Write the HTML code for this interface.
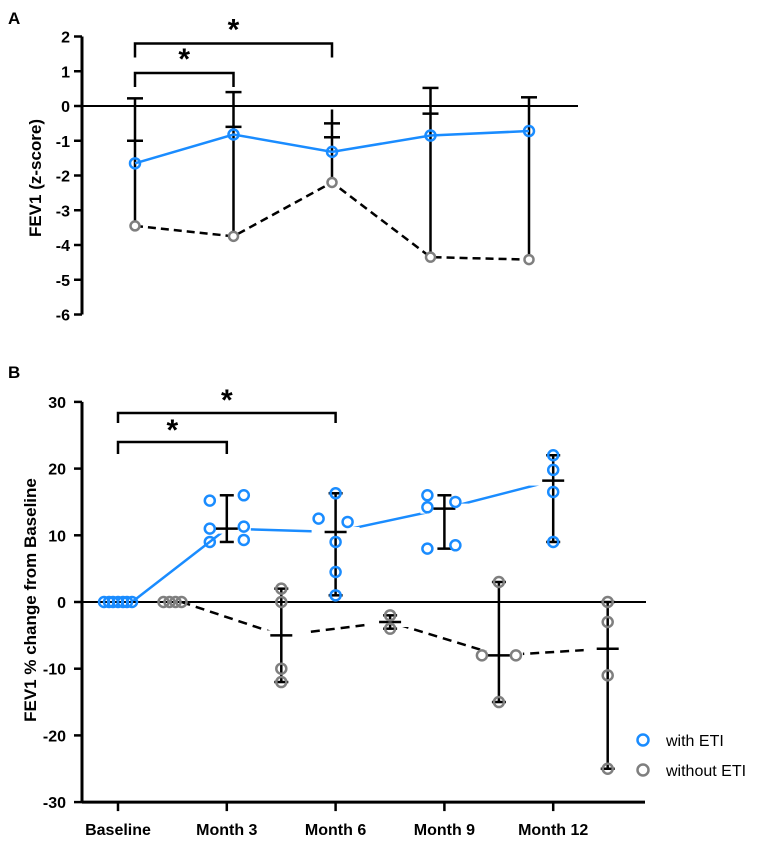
<!DOCTYPE html>
<html><head><meta charset="utf-8"><style>
html,body{margin:0;padding:0;background:#fff}
svg{display:block;font-family:"Liberation Sans",Arial,sans-serif}
</style></head><body>
<svg id="chart" width="763" height="842" viewBox="0 0 763 842" xmlns="http://www.w3.org/2000/svg"></svg>
<script>
const NS="http://www.w3.org/2000/svg";
const BLUE="#1a8cff", GRAY="#7f7f7f";
// Panel A data
const aTicks=[2,1,0,-1,-2,-3,-4,-5,-6];
const aWith=[-1.65,-0.82,-1.32,-0.85,-0.72];
const aWithout=[-3.45,-3.75,-2.2,-4.35,-4.42];
const aErrTop=[0.22,0.4,-0.1,0.52,0.25];
const aCaps=[[0.22,-1.0],[0.4,-0.6],[-0.5,-0.9],[0.52,-0.22],[0.25]];
// Panel B data
const categories=["Baseline","Month 3","Month 6","Month 9","Month 12"];
const bTicks=[30,20,10,0,-10,-20,-30];
const bWithPts=[[0,0,0,0,0,0,0],[15.2,16,11,11.3,9,9.3],[16.3,9,4.5,1,12.5,12],[16,14.2,15,8,8.5],[22,19.8,16.5,9]];
const bWithDx=[[-14,-9,-5,0,5,9,14],[-17,17,-17,17,-17,17],[0,0,0,0,-17,12],[-17,-17,11,-17,11],[0,0,0,0]];
const bWithMean=[0,11,10.5,14,18.2];
const bWithSD=[null,[16,9],[16.3,1],[16,8],[22,9]];
const bWoPts=[[0,0,0,0],[2,0,-10,-12],[-2,-4],[3,-8,-8,-15],[0,-3,-11,-25]];
const bWoDx=[[-9,-3,3,9],[0,0,0,0],[0,0],[0,-17,17,0],[0,0,0,0]];
const bWoMean=[0,-5,-3,-8,-7];
const bWoSD=[null,[2,-12],[-2,-4],[3,-15],[0,-25]];

const svg=document.getElementById('chart');
function el(tag,attrs,parent){const e=document.createElementNS(NS,tag);for(const k in attrs)e.setAttribute(k,attrs[k]);(parent||svg).appendChild(e);return e;}
function txt(s,attrs,parent){const e=el('text',attrs,parent);e.textContent=s;return e;}

// ---------- Panel A ----------
const gA=el('g',{});


const yA=v=>106-v*34.75;
const xA=i=>135+i*98.5;
const pl=txt('A',{x:8,y:24,'font-size':17,'font-weight':'bold'},gA);

el('line',{x1:82,y1:yA(2),x2:82,y2:yA(-6),stroke:'#000','stroke-width':3},gA);
el('line',{x1:82,y1:yA(0),x2:578,y2:yA(0),stroke:'#000','stroke-width':2},gA);
aTicks.forEach(t=>{
 el('line',{x1:74,y1:yA(t),x2:82,y2:yA(t),stroke:'#000','stroke-width':2.5},gA);
 const l=txt(String(t),{x:70,y:yA(t)+6,'font-size':16,'font-weight':'bold','text-anchor':'end'},gA);
 
});
const at=txt('FEV1 (z-score)',{x:0,y:0,'font-size':17,'font-weight':'bold','text-anchor':'middle',transform:'translate(41,178) rotate(-90)'},gA);

function bracket(g,x1,x2,y,drop,sy,name){
 const p=el('path',{d:`M${x1},${y+drop} V${y} H${x2} V${y+drop}`,fill:'none',stroke:'#000','stroke-width':2.5},g);
 
 const s=txt('*',{x:(x1+x2)/2,y:sy,'font-size':30,'font-weight':'bold','text-anchor':'middle'},g);
 
}
bracket(gA,xA(0),xA(2),yA(1.8),14,yA(1.8)-4,'a-bracket-baseline-month6');
bracket(gA,xA(0),xA(1),yA(0.95),14,yA(0.95)-4,'a-bracket-baseline-month3');
aErrTop.forEach((t,i)=>{
 const ln=el('line',{x1:xA(i),y1:yA(t),x2:xA(i),y2:yA(aWithout[i]),stroke:'#000','stroke-width':2.5},gA);
 
 aCaps[i].forEach(c=>el('line',{x1:xA(i)-8,y1:yA(c),x2:xA(i)+8,y2:yA(c),stroke:'#000','stroke-width':2.5},gA));
});
el('polyline',{points:aWithout.map((v,i)=>xA(i)+','+yA(v)).join(' '),fill:'none',stroke:'#000','stroke-width':2.5,'stroke-dasharray':'8,5'},gA);
el('polyline',{points:aWith.map((v,i)=>xA(i)+','+yA(v)).join(' '),fill:'none',stroke:BLUE,'stroke-width':2.5},gA);
aWithout.forEach((v,i)=>{const c=el('circle',{cx:xA(i),cy:yA(v),r:4.5,fill:'#fff',stroke:GRAY,'stroke-width':2.5},gA);});
aWith.forEach((v,i)=>{const c=el('circle',{cx:xA(i),cy:yA(v),r:5,fill:'none',stroke:BLUE,'stroke-width':2.5},gA);});

// ---------- Panel B ----------
const gB=el('g',{});


const yB=v=>602-v*6.67;
const xB=i=>118+i*108.8;
const gOff=54.5;
const pb=txt('B',{x:8,y:378,'font-size':17,'font-weight':'bold'},gB);

el('line',{x1:82,y1:yB(30),x2:82,y2:yB(-30),stroke:'#000','stroke-width':3},gB);
el('line',{x1:82,y1:yB(-30),x2:645,y2:yB(-30),stroke:'#000','stroke-width':3},gB);
el('line',{x1:82,y1:yB(0),x2:646,y2:yB(0),stroke:'#000','stroke-width':2},gB);
bTicks.forEach(t=>{
 el('line',{x1:74,y1:yB(t),x2:82,y2:yB(t),stroke:'#000','stroke-width':2.5},gB);
 const l=txt(String(t),{x:66,y:yB(t)+6,'font-size':16,'font-weight':'bold','text-anchor':'end'},gB);
 
});
categories.forEach((c,i)=>{
 el('line',{x1:xB(i),y1:yB(-30),x2:xB(i),y2:yB(-30)+9,stroke:'#000','stroke-width':2.5},gB);
 const l=txt(c,{x:xB(i),y:835,'font-size':16,'font-weight':'bold','text-anchor':'middle'},gB);
 
});
const bt=txt('FEV1 % change from Baseline',{x:0,y:0,'font-size':17,'font-weight':'bold','text-anchor':'middle',transform:'translate(36,600) rotate(-90)'},gB);

bracket(gB,xB(0),xB(2),413,10,410,'b-bracket-baseline-month6');
bracket(gB,xB(0),xB(1),442,12,440,'b-bracket-baseline-month3');
const wPts=bWithMean.map((v,i)=>[i===0?xB(0)+14:xB(i),yB(v)]);
el('polyline',{points:wPts.map(p=>p.join(',')).join(' '),fill:'none',stroke:BLUE,'stroke-width':2.5},gB);
const gPts=bWoMean.map((v,i)=>[xB(i)+gOff+(i===0?9:0),yB(v)]);
el('polyline',{points:gPts.map(p=>p.join(',')).join(' '),fill:'none',stroke:'#000','stroke-width':2.5,'stroke-dasharray':'9,6'},gB);
[1,2,3,4].forEach(i=>{el('rect',{x:xB(i)-24,y:yB(bWithMean[i])-5,width:48,height:10,fill:'#fff'},gB);});
[1,2,3,4].forEach(i=>{el('rect',{x:xB(i)+gOff-24,y:yB(bWoMean[i])-5,width:48,height:10,fill:'#fff'},gB);});
el('line',{x1:82,y1:yB(0),x2:646,y2:yB(0),stroke:'#000','stroke-width':2},gB);
function errbar(x,sd,mean,name){
 if(!sd)return;
 const l=el('line',{x1:x,y1:yB(sd[0]),x2:x,y2:yB(sd[1]),stroke:'#000','stroke-width':2.5},gB);
 
 sd.forEach(v=>el('line',{x1:x-7,y1:yB(v),x2:x+7,y2:yB(v),stroke:'#000','stroke-width':2.5},gB));
 el('line',{x1:x-11,y1:yB(mean),x2:x+11,y2:yB(mean),stroke:'#000','stroke-width':2.5},gB);
}
bWithSD.forEach((sd,i)=>errbar(xB(i),sd,bWithMean[i],'b-with-eti-error-bar'));
bWoSD.forEach((sd,i)=>errbar(xB(i)+gOff,sd,bWoMean[i],'b-without-eti-error-bar'));
bWithPts.forEach((arr,i)=>arr.forEach((v,j)=>{
 const c=el('circle',{cx:xB(i)+bWithDx[i][j],cy:yB(v),r:5,fill:'none',stroke:BLUE,'stroke-width':2.5},gB);
 
}));
bWoPts.forEach((arr,i)=>arr.forEach((v,j)=>{
 const c=el('circle',{cx:xB(i)+gOff+bWoDx[i][j],cy:yB(v),r:5,fill:'none',stroke:GRAY,'stroke-width':2.5},gB);
 
}));
const lg=el('g',{},gB);

const l1=el('g',{},lg);
el('circle',{cx:643,cy:740,r:5.5,fill:'none',stroke:BLUE,'stroke-width':2.5},l1);
txt('with ETI',{x:666,y:746,'font-size':16},l1);
const l2=el('g',{},lg);
el('circle',{cx:643,cy:770,r:5.5,fill:'none',stroke:GRAY,'stroke-width':2.5},l2);
txt('without ETI',{x:666,y:776,'font-size':16},l2);
</script>
</body></html>
